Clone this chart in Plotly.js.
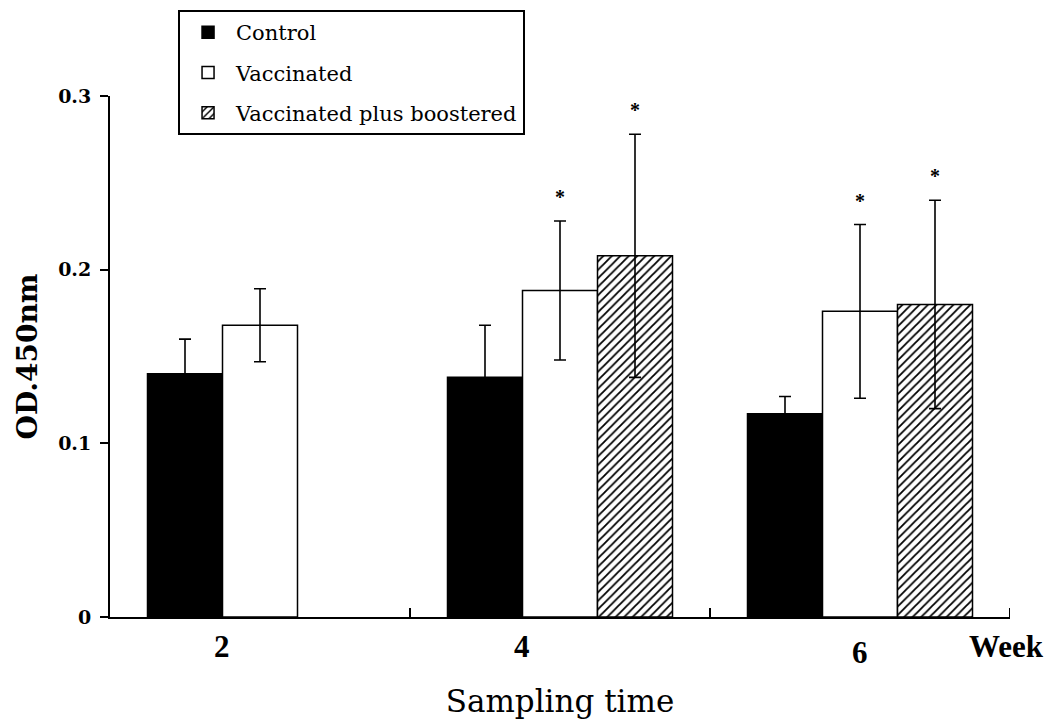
<!DOCTYPE html>
<html>
<head>
<meta charset="utf-8">
<script src="https://cdn.plot.ly/plotly-3.0.1.min.js"></script>
<style>html,body{margin:0;padding:0;background:#fff}#chart{width:1053px;height:722px}</style>
</head>
<body>
<div id="chart"></div>
<script>
const weeks = ["2", "4", "6"];
const controlVals = [0.140, 0.138, 0.117];
const controlErr = [0.020, 0.030, 0.010];
const vaccVals = [0.168, 0.188, 0.176];
const vaccErr = [0.021, 0.040, 0.050];
const boostVals = [null, 0.208, 0.180];
const boostErr = [null, 0.070, 0.060];
const vaccSig = [false, true, true];
const boostSig = [false, true, true];
const weekLabelShift = [-38, -38, 0];
const weekLabelDrop = [0, 0, 6];

const serif = "DejaVu Serif, serif";
const times = "Liberation Serif, Times New Roman, serif";

const errStyle = {type: "data", symmetric: true, color: "#000", thickness: 1.6, width: 6};

const traces = [
  {type: "bar", name: "Control", x: weeks, y: controlVals, legendgroup: "a",
   error_y: Object.assign({array: controlErr}, errStyle),
   marker: {color: "#000", line: {color: "#000", width: 1.5}}},
  {type: "bar", name: "Vaccinated", x: weeks, y: vaccVals, legendgroup: "b",
   error_y: Object.assign({array: vaccErr}, errStyle),
   marker: {color: "#fff", line: {color: "#000", width: 1.5}}},
  {type: "bar", name: "Vaccinated plus boostered", x: weeks, y: boostVals, legendgroup: "c",
   error_y: Object.assign({array: boostErr}, errStyle),
   marker: {color: "#fff", line: {color: "#000", width: 1.5},
            pattern: {shape: "/", fgcolor: "#000", bgcolor: "#fff", size: 6, solidity: 0.3}}}
];

const annotations = [];
weeks.forEach((w, i) => {
  annotations.push({x: i, xref: "x", y: 0, yref: "y", yanchor: "top", yshift: -10 - weekLabelDrop[i],
    xshift: weekLabelShift[i], text: "<b>" + w + "</b>", showarrow: false,
    font: {family: times, size: 31, color: "#000"}});
  if (vaccSig[i]) annotations.push({x: i, xref: "x", y: vaccVals[i] + vaccErr[i], yref: "y",
    yshift: 24, text: "<b>*</b>", showarrow: false, font: {family: times, size: 20, color: "#000"}});
  if (boostSig[i]) annotations.push({x: i, xref: "x", xshift: 75, y: boostVals[i] + boostErr[i], yref: "y",
    yshift: 24, text: "<b>*</b>", showarrow: false, font: {family: times, size: 20, color: "#000"}});
});
annotations.push({x: 1, xref: "paper", xanchor: "left", xshift: -43, y: 0, yref: "y", yanchor: "top", yshift: -10,
  text: "<b>Week</b>", showarrow: false, font: {family: times, size: 31, color: "#000"}});

const layout = {
  width: 1053, height: 722,
  margin: {l: 110, r: 43, t: 96, b: 105, autoexpand: false},
  paper_bgcolor: "#fff", plot_bgcolor: "#fff",
  barmode: "group", bargap: 0.25, bargroupgap: 0,
  showlegend: true,
  legend: {x: 0.0756, y: 1.165, xanchor: "left", yanchor: "top",
    bgcolor: "#fff", bordercolor: "#000", borderwidth: 2,
    traceorder: "grouped", tracegroupgap: 10, itemwidth: 46,
    font: {family: serif, size: 21, color: "#000"}},
  xaxis: {type: "category", range: [-0.5, 2.5], showticklabels: false, tickson: "boundaries",
    ticks: "inside", ticklen: 9, tickcolor: "#000", tickwidth: 2,
    showline: true, linecolor: "#000", linewidth: 2, showgrid: false, zeroline: false,
    title: {text: "Sampling time", standoff: 72, font: {family: serif, size: 31, color: "#000"}}},
  yaxis: {range: [0, 0.3], tickvals: [0, 0.1, 0.2, 0.3], ticktext: ["0", "0.1", "0.2", "0.3"],
    ticks: "outside", ticklen: 8, tickcolor: "#000", tickwidth: 2, ticklabelstandoff: 5,
    showline: true, linecolor: "#000", linewidth: 2, showgrid: false, zeroline: false,
    tickfont: {family: serif, size: 19, color: "#000", weight: "bold"},
    title: {text: "<b>OD.450nm</b>", standoff: 12, font: {family: serif, size: 28, color: "#000"}}},
  shapes: [{type: "line", xref: "x", x0: 2.5, x1: 2.5, yref: "y", ysizemode: "pixel", yanchor: 0,
    y0: 0, y1: 9, line: {color: "#000", width: 2}}],
  annotations: annotations
};

Plotly.newPlot("chart", traces, layout, {displayModeBar: false, staticPlot: true});
</script>
</body>
</html>
